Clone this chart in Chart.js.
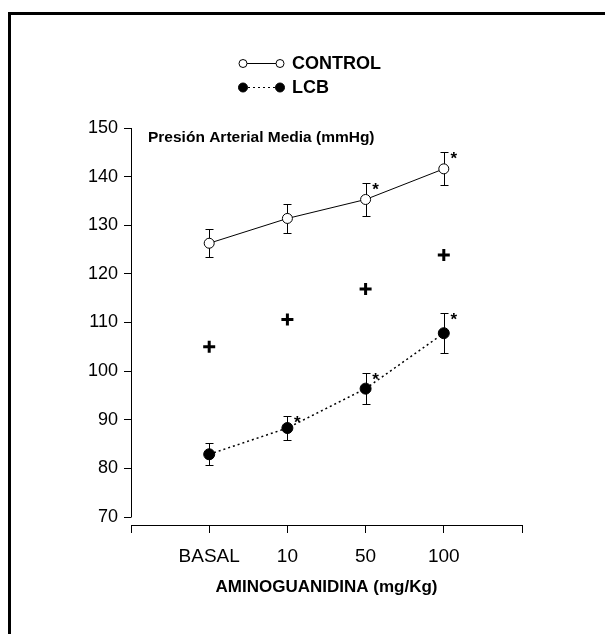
<!DOCTYPE html>
<html>
<head>
<meta charset="utf-8">
<title>Aminoguanidina</title>
<script src="https://cdn.jsdelivr.net/npm/chart.js@4/dist/chart.umd.min.js"></script>
<style>
  body { margin: 0; background: #fff; }
  #frame {
    position: absolute; left: 8px; top: 12px; width: 597px; height: 622px;
    border-left: 3px solid #000; border-top: 3px solid #000; box-sizing: border-box;
  }
  #mapChart { position: absolute; left: 0; top: 0; }
</style>
</head>
<body>
<div id="frame"></div>
<canvas id="mapChart" width="605" height="634"></canvas>
<script>
var FONT = "'Liberation Sans', Arial, Helvetica, sans-serif";

var categories = ['BASAL', '10', '50', '100'];
var control = [126.3, 131.4, 135.3, 141.6];
var controlErr = [2.9, 3.0, 3.3, 3.4];
var lcb = [82.9, 88.3, 96.4, 107.8];
var lcbErr = [2.3, 2.5, 3.2, 4.1];
var crosses = [105.0, 110.6, 116.9, 123.9];
var controlSig = [false, false, true, true];
var lcbSig = [false, true, true, true];
var yMin = 70, yMax = 150, yStep = 10;

// x axis sits a few pixels below the lowest y tick
var plotHeight = 397, axisGap = 8;
var yFloor = yMin - axisGap * (yMax - yMin) / (plotHeight - axisGap);

function points(values) {
  return values.map(function (v, i) { return { x: i + 1, y: v }; });
}

var extras = {
  id: 'extras',
  beforeDatasetsDraw: function (chart) {
    var ctx = chart.ctx, xs = chart.scales.x, ys = chart.scales.y;
    ctx.save();
    ctx.strokeStyle = '#000';
    ctx.lineWidth = 1;
    [[control, controlErr], [lcb, lcbErr]].forEach(function (pair) {
      pair[0].forEach(function (v, i) {
        var px = Math.round(xs.getPixelForValue(i + 1)) + 0.5;
        var top = Math.round(ys.getPixelForValue(v + pair[1][i])) + 0.5;
        var bot = Math.round(ys.getPixelForValue(v - pair[1][i])) + 0.5;
        ctx.beginPath();
        ctx.moveTo(px, top); ctx.lineTo(px, bot);
        ctx.moveTo(px - 4, top); ctx.lineTo(px + 4, top);
        ctx.moveTo(px - 4, bot); ctx.lineTo(px + 4, bot);
        ctx.stroke();
      });
    });
    ctx.restore();
  },
  afterDraw: function (chart) {
    var ctx = chart.ctx, xs = chart.scales.x, ys = chart.scales.y, area = chart.chartArea;
    ctx.save();
    ctx.strokeStyle = '#000';
    ctx.fillStyle = '#000';
    ctx.lineWidth = 1;

    // y axis line, only over the tick range
    var ax = Math.round(area.left) + 0.5;
    ctx.beginPath();
    ctx.moveTo(ax, Math.round(ys.getPixelForValue(yMin)) + 0.5);
    ctx.lineTo(ax, Math.round(ys.getPixelForValue(yMax)));
    ctx.stroke();

    // significance stars
    ctx.font = 'bold 17px ' + FONT;
    ctx.textAlign = 'center';
    ctx.textBaseline = 'alphabetic';
    [[control, controlErr, controlSig], [lcb, lcbErr, lcbSig]].forEach(function (set) {
      set[0].forEach(function (v, i) {
        if (!set[2][i]) return;
        var px = xs.getPixelForValue(i + 1) + 10;
        var py = ys.getPixelForValue(v + set[1][i]) + 12;
        ctx.fillText('*', px, py);
      });
    });

    // label inside the plot
    ctx.font = 'bold 15.5px ' + FONT;
    ctx.textAlign = 'left';
    ctx.textBaseline = 'middle';
    ctx.fillText('Presión Arterial Media (mmHg)', area.left + 17, ys.getPixelForValue(yMax) + 10);

    // legend
    var lx0 = 243, lx1 = 280, rows = [
      { y: 63, text: 'CONTROL', fill: '#fff', dash: [] },
      { y: 87, text: 'LCB', fill: '#000', dash: [2, 3] }
    ];
    rows.forEach(function (r) {
      ctx.setLineDash(r.dash);
      ctx.beginPath();
      ctx.moveTo(lx0, r.y + 0.5); ctx.lineTo(lx1, r.y + 0.5);
      ctx.stroke();
      ctx.setLineDash([]);
      [lx0, lx1].forEach(function (cx) {
        ctx.beginPath();
        ctx.arc(cx, r.y + 0.5, r.fill === '#fff' ? 4 : 4.5, 0, Math.PI * 2);
        ctx.fillStyle = r.fill;
        ctx.fill();
        ctx.stroke();
      });
      ctx.fillStyle = '#000';
      ctx.font = 'bold 18px ' + FONT;
      ctx.fillText(r.text, 292, r.y + 1);
    });
    ctx.restore();
  }
};

var ctx = document.getElementById('mapChart').getContext('2d');
var mapChart = new Chart(ctx, {
  type: 'line',
  data: {
    datasets: [{
      label: 'CONTROL',
      data: points(control),
      borderColor: '#000',
      borderWidth: 1,
      pointRadius: 5,
      pointBackgroundColor: '#fff',
      pointBorderColor: '#000',
      pointBorderWidth: 1
    }, {
      label: 'LCB',
      data: points(lcb),
      borderColor: '#000',
      borderWidth: 1.5,
      borderDash: [2, 3],
      pointRadius: 5.5,
      pointBackgroundColor: '#000',
      pointBorderColor: '#000',
      pointBorderWidth: 1
    }, {
      label: '+',
      type: 'scatter',
      data: points(crosses),
      pointStyle: 'cross',
      pointRadius: 6,
      borderColor: '#000',
      borderWidth: 3,
      showLine: false
    }]
  },
  options: {
    responsive: false,
    animation: false,
    layout: { padding: { top: 128, right: 83, bottom: 36, left: 0 } },
    plugins: { legend: { display: false }, tooltip: { enabled: false } },
    scales: {
      x: {
        type: 'linear',
        min: 0,
        max: categories.length + 1,
        afterFit: function (scale) { scale.height = 73; },
        ticks: {
          stepSize: 1,
          autoSkip: false,
          maxRotation: 0,
          padding: 12,
          color: '#000',
          font: { family: FONT, size: 19 },
          callback: function (v) { return categories[v - 1] || ''; }
        },
        grid: { drawOnChartArea: false, color: '#000', tickLength: 8 },
        border: { display: true, color: '#000', width: 1 },
        title: {
          display: true,
          text: 'AMINOGUANIDINA (mg/Kg)',
          color: '#000',
          font: { family: FONT, size: 17, weight: 'bold' },
          padding: 0
        }
      },
      y: {
        min: yFloor,
        max: yMax,
        afterFit: function (scale) { scale.width = 131; },
        ticks: {
          stepSize: yStep,
          includeBounds: false,
          padding: 6,
          color: '#000',
          font: { family: FONT, size: 18 }
        },
        grid: { drawOnChartArea: false, color: '#000', tickLength: 7 },
        border: { display: false }
      }
    }
  },
  plugins: [extras]
});
</script>
</body>
</html>
